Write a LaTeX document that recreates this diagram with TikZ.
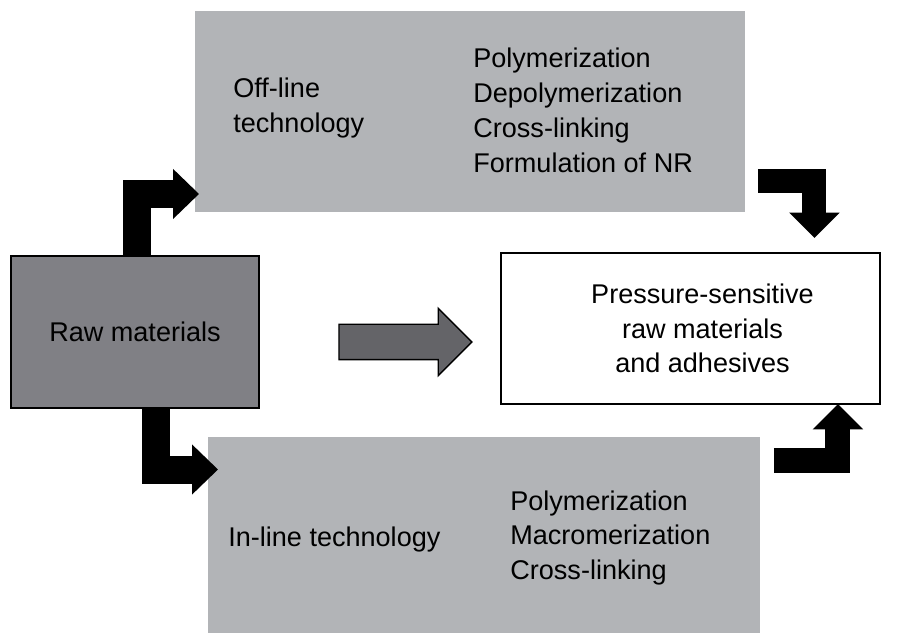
\documentclass[tikz,border=0pt]{standalone}
\usepackage{fontspec}
\setmainfont{Liberation Sans}
\usetikzlibrary{arrows.meta,calc,shapes.arrows}
\definecolor{boxgray}{RGB}{178,180,183}
\definecolor{rawgray}{RGB}{128,128,133}
\definecolor{arrowgray}{RGB}{100,100,104}
\begin{document}
\begin{tikzpicture}[x=0.02cm, y=0.02cm,
        every node/.style={font=\fontsize{15.4pt}{19.8pt}\selectfont},
        techbox/.style={fill=boxgray, inner sep=0pt, outer sep=0pt},
        framebox/.style={draw=black, line width=0.8pt, inner sep=0pt, outer sep=0pt},
        txt/.style={inner sep=0pt, align=left},
        bentarrow/.style={line width=0.56cm, -{Triangle[length=0.52cm, width=0.97cm]}},
        sidearrow/.style={line width=0.48cm, -{Triangle[length=0.51cm, width=0.98cm]}}]
        \useasboundingbox (0,0) rectangle (900,634);

        % boxes
        \node[techbox, minimum width=11cm, minimum height=4.02cm] (offline) at (470,522.5) {};
        \node[techbox, minimum width=11.04cm, minimum height=3.92cm] (inline) at (484,99) {};
        \node[framebox, fill=rawgray, minimum width=4.96cm, minimum height=3.04cm] (raw) at (135,302) {Raw materials};
        \node[framebox, fill=white, minimum width=7.58cm, minimum height=3.02cm] (psa) at (690.5,305.5) {};

        % texts
        \node[txt, align=center] (psatext) at ($(psa.center)+(12,0)$) {Pressure-sensitive\\raw materials\\and adhesives};
        \node[txt, anchor=west] (offlabel) at (233,526) {Off-line\\technology};
        \node[txt, anchor=west] (offsteps) at (473,523.5) {Polymerization\\Depolymerization\\Cross-linking\\Formulation of NR};
        \node[txt, anchor=west] (inlabel) at (228,94) {In-line technology};
        \node[txt, anchor=west] (insteps) at (510,96) {Polymerization\\Macromerization\\Cross-linking};

        % arrows
        \node[single arrow, draw=black, line width=0.8pt, fill=arrowgray, inner sep=0pt, outer sep=0pt,
            minimum height=2.66cm, single arrow head extend=0.32cm, text height=0.68cm, text depth=0pt,
            anchor=tail] (direct) at ($(raw.east)+(80,-10)$) {};
        \draw[bentarrow] ($(raw.north)+(2,0)$) |- ($(offline.south west)+(4,18)$);
        \draw[bentarrow] ($(raw.south)+(21,0)$) |- ($(inline.north west)+(10,-32.5)$);
        \draw[sidearrow] ($(offline.east)+(13,-70)$) -| ($(psa.north east)+(-65.5,15)$);
        \draw[sidearrow, line width=0.5cm] ($(inline.east)+(14,74.5)$) -| ($(psa.south east)+(-42,0)$);
\end{tikzpicture}
\end{document}
